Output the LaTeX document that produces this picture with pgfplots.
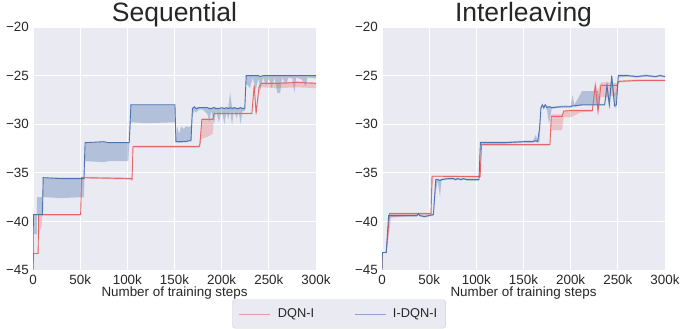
\documentclass[border=0pt]{standalone}
\usepackage{pgfplots}
\pgfplotsset{compat=1.18}
\usepackage{pgfplotstable}
\usepgfplotslibrary{fillbetween}
\usepackage{fontspec}
\setmainfont{Liberation Sans}
\definecolor{bg}{HTML}{EAEAF2}
\definecolor{cblue}{HTML}{4C72B0}
\definecolor{cred}{RGB}{228,102,102}
\definecolor{txt}{HTML}{262626}

\pgfplotstableread{
x m lo hi
0 -45 -45 -45
0.4 -39.3 -41.3 -39.3
4 -39.3 -41.3 -39.3
4.5 -39.3 -39.3 -37.5
10 -39.3 -39.3 -37.5
10.8 -35.5 -37.5 -35.5
30 -35.6 -37.6 -35.5
54 -35.6 -37.5 -35.5
55.2 -31.9 -33.8 -31.9
75 -31.8 -33.9 -31.8
80 -31.9 -33.8 -31.9
101 -31.9 -33.8 -31.9
102 -31.9 -31.9 -31.9
103.8 -28.0 -29.8 -28.0
120 -28.0 -29.9 -28.0
150.5 -28.0 -29.8 -28.0
151.5 -31.8 -31.8 -31.2
153 -31.8 -31.9 -30.3
155 -31.8 -31.9 -31.0
157 -31.8 -31.9 -30.2
160 -31.8 -31.8 -30.5
162 -31.8 -31.8 -30.2
165 -31.7 -31.8 -30.3
167.5 -31.7 -31.8 -30.2
169 -28.4 -29.2 -28.3
171 -28.2 -28.6 -28.2
173 -28.4 -28.8 -28.3
176 -28.3 -28.5 -28.2
180 -28.3 -28.5 -28.3
185 -28.3 -29.0 -28.3
187 -28.4 -29.8 -28.3
189 -28.4 -28.6 -28.3
192 -28.3 -30.0 -28.2
194 -28.4 -28.6 -28.3
197 -28.4 -29.8 -28.3
200 -28.3 -28.6 -28.3
203 -28.4 -30.0 -28.3
205 -28.3 -28.7 -28.3
207 -28.4 -29.5 -28.3
209 -28.3 -28.6 -26.7
211 -28.4 -30.1 -28.3
213 -28.3 -28.6 -28.2
216 -28.4 -29.4 -28.3
218 -28.4 -28.6 -28.3
220 -28.3 -30.0 -28.2
222 -28.4 -28.7 -28.3
224.5 -28.4 -28.6 -28.3
226 -25.0 -25.8 -25.0
230 -25.0 -26.3 -25.0
233 -25.0 -25.2 -25.0
236 -25.0 -26.5 -25.0
239 -25.0 -25.3 -25.0
241 -25.1 -26.4 -25.0
244 -25.0 -25.2 -25.0
247 -25.0 -26.0 -25.0
250 -25.0 -25.3 -25.0
253 -25.0 -26.3 -25.0
256 -25.0 -25.2 -25.0
259 -25.0 -26.8 -25.0
262 -25.0 -26.8 -25.0
264 -25.0 -25.2 -25.0
268 -25.0 -25.9 -25.0
271 -25.0 -25.2 -25.0
275 -25.0 -25.3 -25.0
277 -25.0 -26.8 -25.0
279 -25.0 -25.2 -25.0
285 -25.0 -25.4 -25.0
289 -25.0 -26.1 -25.0
291 -25.0 -25.2 -25.0
300 -25.0 -25.3 -25.0
}\tabSB

\pgfplotstableread{
x m lo hi
0 -45 -45 -45
0.5 -43.3 -43.3 -43.3
5.4 -43.3 -43.3 -43.3
6 -39.3 -41.5 -39.3
9 -39.3 -40.5 -39.3
10 -39.3 -39.4 -39.3
50.5 -39.3 -39.4 -39.3
51.5 -35.5 -37.0 -35.4
53 -35.5 -35.6 -35.4
104 -35.6 -35.7 -35.5
105 -35.7 -35.8 -35.5
106 -32.3 -32.4 -32.2
176 -32.3 -32.4 -32.2
177 -32.0 -32.4 -31.5
179 -29.5 -31.5 -29.4
185 -29.5 -31.3 -29.4
190.5 -29.5 -31.0 -29.4
192 -28.9 -29.0 -28.8
232 -28.9 -29.0 -28.8
234.5 -26.0 -26.5 -25.9
236.5 -28.9 -29.2 -28.8
239.5 -26.2 -27.0 -26.0
242 -25.8 -26.2 -25.7
260 -25.8 -26.3 -25.7
280 -25.7 -26.2 -25.6
300 -25.8 -26.3 -25.7
}\tabSR

\pgfplotstableread{
x m lo hi
0 -45 -45 -45
0.4 -43.2 -43.2 -43.2
4.5 -43.2 -43.3 -43.2
7 -39.4 -39.6 -39.3
20 -39.4 -39.5 -39.3
37 -39.4 -39.5 -39.3
38.5 -39.2 -39.3 -39.1
40 -39.4 -39.5 -39.3
45 -39.5 -39.6 -39.4
50 -39.4 -39.5 -39.3
54.5 -39.3 -39.4 -39.2
57 -35.7 -37.0 -35.6
59 -35.7 -35.8 -35.6
61.5 -35.8 -37.5 -35.7
63 -35.7 -35.8 -35.6
70 -35.6 -35.7 -35.5
76 -35.6 -35.7 -35.5
78 -35.7 -35.8 -35.6
80 -35.6 -35.7 -35.5
84 -35.7 -35.8 -35.6
86 -35.6 -35.7 -35.5
90 -35.7 -35.8 -35.6
102.8 -35.7 -35.8 -35.6
104.3 -31.9 -32.0 -31.8
130 -31.9 -32.0 -31.8
150 -31.8 -31.9 -31.7
160 -31.8 -31.9 -31.7
163 -31.7 -31.8 -31.1
165 -31.8 -31.9 -31.7
167 -30.5 -31.8 -30.0
168.5 -28.3 -28.5 -28.2
170 -28.0 -28.2 -27.9
171.5 -28.3 -28.5 -28.2
173 -28.0 -28.2 -27.9
175 -28.3 -28.6 -28.2
177 -28.2 -30.0 -28.1
180 -28.3 -28.4 -28.2
190 -28.2 -28.3 -28.1
200 -28.2 -28.3 -28.1
202 -28.1 -28.2 -27.0
204 -28.1 -28.2 -28.0
212 -28.0 -28.1 -26.6
229 -28.0 -28.1 -26.6
231 -28.0 -28.1 -27.9
236 -28.0 -28.1 -27.9
238.5 -26.0 -27.0 -25.8
241 -28.0 -28.3 -27.5
243.5 -25.0 -26.0 -24.9
246.5 -28.1 -28.3 -27.0
248.5 -28.0 -28.3 -26.5
250.5 -25.0 -25.2 -24.9
260 -25.0 -25.1 -24.9
270 -25.1 -25.2 -25.0
280 -25.0 -25.1 -24.9
290 -25.1 -25.2 -25.0
295 -25.0 -25.1 -24.9
300 -25.1 -25.2 -25.0
}\tabIB

\pgfplotstableread{
x m lo hi
0 -45 -45 -45
0.5 -43.2 -43.2 -43.2
4.5 -43.2 -43.2 -43.2
8 -39.2 -41.0 -39.1
9.5 -39.2 -39.6 -39.1
52 -39.2 -39.3 -39.1
53 -35.35 -37.0 -35.3
55 -35.35 -35.4 -35.3
104 -35.4 -35.5 -35.3
105.5 -32.1 -32.2 -32.0
178 -32.1 -32.2 -32.0
179.5 -29.2 -30.6 -29.0
191 -29.2 -30.6 -29.0
192.5 -28.65 -29.3 -28.6
200 -28.6 -29.3 -28.5
210 -28.6 -28.8 -28.5
223 -28.6 -28.7 -28.5
226 -26.0 -26.2 -25.8
229 -28.7 -28.8 -26.5
232 -26.0 -27.2 -25.7
240 -26.0 -27.2 -25.7
249 -26.0 -27.0 -25.8
251 -25.6 -25.7 -25.5
270 -25.5 -25.6 -25.4
300 -25.5 -25.6 -25.4
}\tabIR

\pgfplotsset{
  myax/.style={
    width=283bp, height=243bp, scale only axis,
    xmin=0, xmax=300, ymin=-45, ymax=-20,
    no markers,
    axis background/.style={fill=bg},
    axis line style={draw=none},
    tick style={draw=none},
    grid=major, grid style={white, line width=0.9bp},
    xtick={0,50,100,150,200,250,300},
    xticklabels={0,50k,100k,150k,200k,250k,300k},
    ytick={-45,-40,-35,-30,-25,-20},
    yticklabels={−45,−40,−35,−30,−25,−20},
    ticklabel style={font=\fontsize{13.4bp}{16bp}\selectfont, text=txt},
    xticklabel style={anchor=north, inner sep=0pt, yshift=-5bp},
    yticklabel style={anchor=east, inner sep=0pt, xshift=-4bp},
    xlabel={Number of training steps},
    every axis x label/.style={at={(axis description cs:0.5,0)}, anchor=base, yshift=-26.8bp,
      font=\fontsize{13.4bp}{16bp}\selectfont, text=txt, inner sep=0pt},
    every axis title/.style={at={(axis description cs:0.5,1)}, anchor=base, yshift=5.5bp,
      font=\fontsize{26.5bp}{30bp}\selectfont, text=txt, inner sep=0pt},
  },
}

\begin{document}
\begin{tikzpicture}
\begin{axis}[myax, title={Sequential},
  legend style={at={(1.0813,-0.1811)}, anchor=center, legend columns=2,
    draw=black!18, fill=bg, rounded corners=2.5bp,
    font=\fontsize{12.8bp}{15bp}\selectfont, text=txt,
    inner xsep=6.5bp, inner ysep=7bp,
    /tikz/every odd column/.append style={column sep=5bp},
    /tikz/every even column/.append style={column sep=38bp}},
  legend image code/.code={\draw[#1, opacity=0.6] (0bp,0bp) -- (31bp,0bp);},
]
\addplot[draw=none, forget plot, name path=sbl] table[x=x, y=lo]{\tabSB};
\addplot[draw=none, forget plot, name path=sbh] table[x=x, y=hi]{\tabSB};
\addplot[fill=cblue, fill opacity=0.35, draw=none, forget plot] fill between[of=sbl and sbh];
\addplot[draw=none, forget plot, name path=srl] table[x=x, y=lo]{\tabSR};
\addplot[draw=none, forget plot, name path=srh] table[x=x, y=hi]{\tabSR};
\addplot[fill=cred, fill opacity=0.3, draw=none, forget plot] fill between[of=srl and srh];
\addplot[cred, line width=0.9bp] table[x=x, y=m]{\tabSR};
\addlegendentry{DQN-I}
\addplot[cblue, line width=0.9bp] table[x=x, y=m]{\tabSB};
\addlegendentry{I-DQN-I}
\end{axis}
\begin{axis}[myax, title={Interleaving}, at={(349bp,0bp)}]
\addplot[draw=none, forget plot, name path=ibl] table[x=x, y=lo]{\tabIB};
\addplot[draw=none, forget plot, name path=ibh] table[x=x, y=hi]{\tabIB};
\addplot[fill=cblue, fill opacity=0.35, draw=none, forget plot] fill between[of=ibl and ibh];
\addplot[draw=none, forget plot, name path=irl] table[x=x, y=lo]{\tabIR};
\addplot[draw=none, forget plot, name path=irh] table[x=x, y=hi]{\tabIR};
\addplot[fill=cred, fill opacity=0.3, draw=none, forget plot] fill between[of=irl and irh];
\addplot[cred, line width=0.9bp] table[x=x, y=m]{\tabIR};
\addplot[cblue, line width=0.9bp] table[x=x, y=m]{\tabIB};
\end{axis}
\pgfresetboundingbox
\path[use as bounding box] (-33bp,-59bp) rectangle (647bp,270bp);
\end{tikzpicture}
\end{document}
